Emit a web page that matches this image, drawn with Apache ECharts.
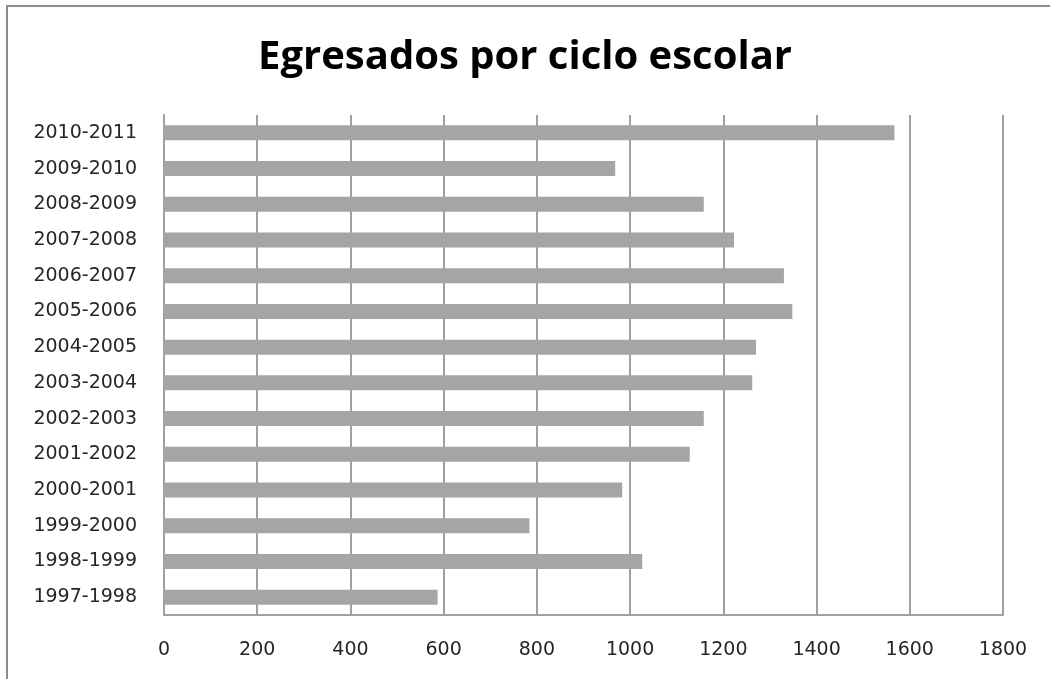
<!DOCTYPE html>
<html>
<head>
<meta charset="utf-8">
<script src="https://cdn.jsdelivr.net/npm/echarts@6/dist/echarts.min.js"></script>
<style>
    html, body { margin: 0; padding: 0; background: #fff; }
    #chart { width: 1050px; height: 679px; }
</style>
</head>
<body>
<div id="chart"></div>
<script>
// school years, bottom to top
const cycles = [
    '1997-1998', '1998-1999', '1999-2000', '2000-2001', '2001-2002',
    '2002-2003', '2003-2004', '2004-2005', '2005-2006', '2006-2007',
    '2007-2008', '2008-2009', '2009-2010', '2010-2011',
];
const graduates = [
    587, 1026, 784, 983, 1128,
    1158, 1262, 1270, 1348, 1330,
    1223, 1158, 968, 1567,
];
const xTicks = [0, 200, 400, 600, 800, 1000, 1200, 1400, 1600, 1800];

const chart = echarts.init(document.getElementById('chart'));
chart.setOption({
    animation: false,
    backgroundColor: '#fff',
    title: {
        text: 'Egresados por ciclo escolar',
        left: 'center',
        top: 33,
        textStyle: {
            color: '#000',
            fontFamily: 'Open Sans',
            fontWeight: 'bold',
            fontSize: 40,
        },
    },
    graphic: [
        {
            type: 'rect',
            silent: true,
            shape: {x: 7, y: 6, width: 1100, height: 720},
            style: {fill: 'none', stroke: '#8c8c8c', lineWidth: 2},
        },
    ],
    grid: {
        left: 164,
        top: 115,
        width: 839,
        height: 500,
        containLabel: false,
    },
    xAxis: {
        type: 'value',
        min: xTicks[0],
        max: xTicks[xTicks.length - 1],
        interval: 200,
        axisLine: {show: true, lineStyle: {color: '#a0a0a0', width: 2}},
        axisTick: {show: false},
        axisLabel: {
            color: '#262626',
            fontFamily: 'DejaVu Sans',
            fontSize: 19,
            margin: 26,
            formatter: (v) => String(v),
        },
        splitLine: {show: true, lineStyle: {color: '#a0a0a0', width: 2}},
    },
    yAxis: {
        type: 'category',
        data: cycles,
        axisLine: {show: true, lineStyle: {color: '#a0a0a0', width: 2}},
        axisTick: {show: false},
        axisLabel: {
            color: '#262626',
            fontFamily: 'DejaVu Sans',
            fontSize: 19,
            margin: 27,
        },
        splitLine: {show: false},
    },
    series: [
        {
            type: 'bar',
            name: 'Egresados',
            data: graduates,
            barCategoryGap: '58%',
            itemStyle: {color: '#a5a5a5'},
        },
    ],
});
</script>
</body>
</html>
